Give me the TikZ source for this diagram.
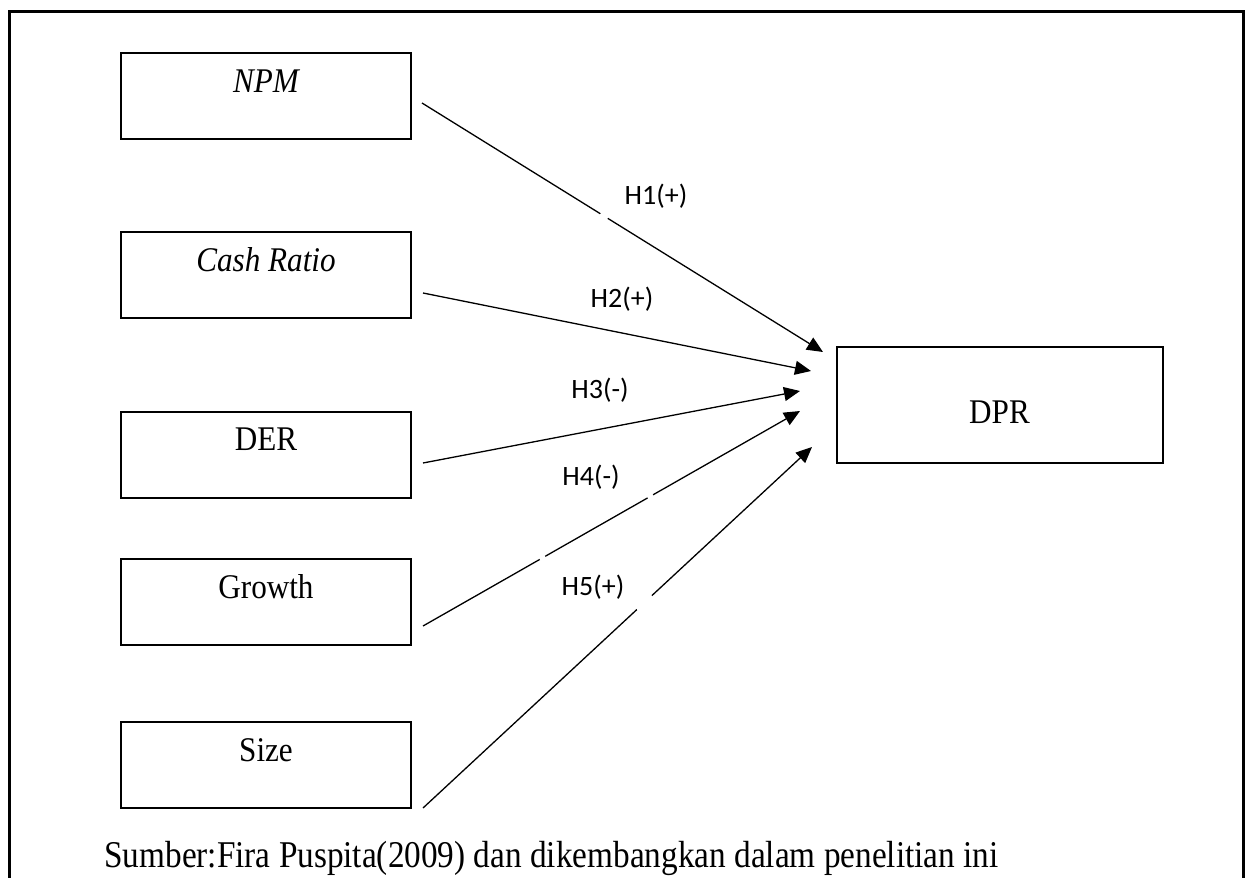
\documentclass[tikz,border=0pt]{standalone}
\usepackage{fontspec}
\setmainfont{Liberation Serif}
\newfontfamily\boxfont[FakeStretch=0.9]{Liberation Serif}
\newfontfamily\srcfont[FakeStretch=0.88]{Liberation Serif}
\newfontfamily\hfont{Carlito}
\usetikzlibrary{arrows.meta,calc}
\begin{document}
\begin{tikzpicture}[x=0.5pt,y=-0.5pt,
  box/.style={draw, line width=1pt, minimum width=145pt, minimum height=43pt, inner sep=0pt},
  boxtxt/.style={anchor=base, inner sep=0pt, font=\boxfont\fontsize{17.3}{20}\selectfont},
  hyp/.style={anchor=base, inner sep=0pt, font=\hfont\fontsize{14}{16}\selectfont},
  arr/.style={line width=0.65pt, -{Triangle[length=8pt,width=7pt]}},
  gap/.style={white, line width=2.5pt}]
\useasboundingbox (0,0) rectangle (1245,877);
% outer frame (bottom edge lies below the picture)
\draw[line width=1.5pt] (9,885) -- (9,12) -- (1243,12) -- (1243,885);

% boxes
\node[box] (npm) at (266,96.5) {};
\node[box] (cash) at (266,275) {};
\node[box] (der) at (266,454.5) {};
\node[box] (growth) at (266,602) {};
\node[box] (size) at (266,765) {};
\node[box, minimum width=163pt, minimum height=58pt] (dpr) at (999.5,404.5) {};

% box texts
\node[boxtxt] (npmt) at ($(npm.north)+(0,40)$) {\itshape NPM};
\node[boxtxt] (casht) at ($(cash.north)+(0,40)$) {\itshape Cash Ratio};
\node[boxtxt] (dert) at ($(der.north)+(0,40)$) {DER};
\node[boxtxt] (growtht) at ($(growth.north)+(0,40)$) {Growth};
\node[boxtxt] (sizet) at ($(size.north)+(0,40)$) {Size};
\node[boxtxt] (dprt) at ($(dpr.north)+(0,78)$) {DPR};

% connector ends
\coordinate (s1) at (422,103);
\coordinate (s2) at (423,293);
\coordinate (s3) at (423,463);
\coordinate (s4) at (423,626);
\coordinate (s5) at (423,808);
\coordinate (t1) at (823,352);
\coordinate (t2) at (811,371);
\coordinate (t3) at (800,391);
\coordinate (t4) at (800,411);
\coordinate (t5) at (812,447);

\draw[arr] (s1) -- (t1);
\draw[arr] (s2) -- (t2);
\draw[arr] (s3) -- (t3);
\draw[arr] (s4) -- (t4);
\draw[arr] (s5) -- (t5);

% small breaks in the connectors
\draw[gap] ($(s1)!0.445!(t1)$) -- ($(s1)!0.463!(t1)$);
\draw[gap] ($(s4)!0.596!(t4)$) -- ($(s4)!0.61!(t4)$);
\draw[gap] ($(s4)!0.31!(t4)$) -- ($(s4)!0.324!(t4)$);
\draw[gap] ($(s5)!0.55!(t5)$) -- ($(s5)!0.588!(t5)$);

% hypothesis labels
\node[hyp] (h1) at (656,205) {H1(+)};
\node[hyp] (h2) at (622,307) {H2(+)};
\node[hyp] (h3) at (600,398) {H3(-)};
\node[hyp] (h4) at (591,485) {H4(-)};
\node[hyp] (h5) at (593,595) {H5(+)};

% source
\node[anchor=base west, inner sep=0pt, font=\srcfont\fontsize{18.9}{22}\selectfont] (src) at (104,867) {Sumber:Fira Puspita(2009) dan dikembangkan dalam penelitian ini};
\end{tikzpicture}
\end{document}
